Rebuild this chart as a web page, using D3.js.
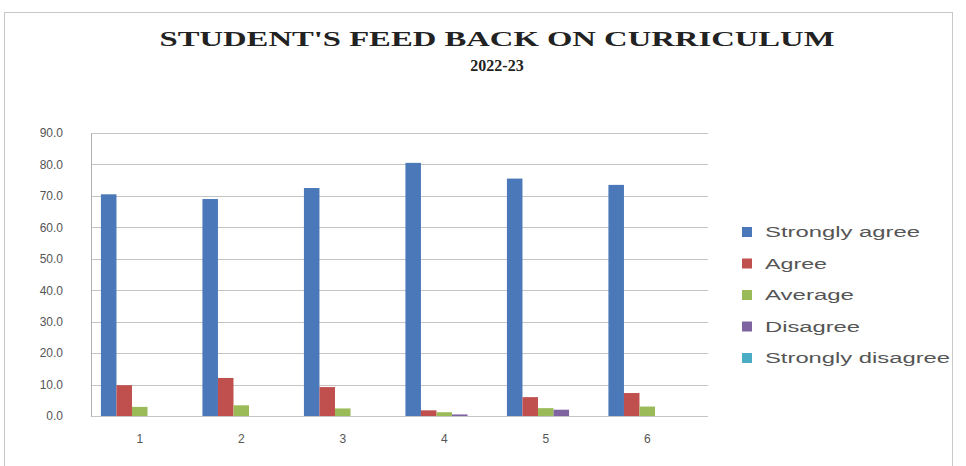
<!DOCTYPE html>
<html>
<head>
<meta charset="utf-8">
<script src="https://cdn.jsdelivr.net/npm/d3@7"></script>
<style>
  html, body { margin: 0; padding: 0; background: #fff; }
  svg { display: block; }
</style>
</head>
<body>
<script>
// ---- data ----
const categories = ["1", "2", "3", "4", "5", "6"];
const seriesNames = ["Strongly agree", "Agree", "Average", "Disagree", "Strongly disagree"];
const stronglyAgree = [70.5, 69.0, 72.5, 80.5, 75.5, 73.5];
const agree = [9.8, 12.1, 9.2, 1.8, 6.0, 7.3];
const average = [2.9, 3.4, 2.4, 1.2, 2.5, 3.0];
const disagree = [0, 0, 0, 0.5, 2.0, 0];
const stronglyDisagree = [0, 0, 0, 0, 0, 0];
const yTicks = [0, 10, 20, 30, 40, 50, 60, 70, 80, 90];
const titleLine1 = "STUDENT'S FEED BACK ON CURRICULUM";
const titleLine2 = "2022-23";

const seriesValues = [stronglyAgree, agree, average, disagree, stronglyDisagree];
const colors = ["#4A78B8", "#C0504D", "#9BBB59", "#8064A2", "#4BACC6"];

const W = 966, H = 466;
const svg = d3.select("body").append("svg").attr("width", W).attr("height", H);

// outer chart border
svg.append("rect").attr("x", 4.5).attr("y", 12.5).attr("width", 948).attr("height", 470)
  .attr("fill", "none").attr("stroke", "#c8c8c8").attr("stroke-width", 1);

// title
svg.append("text").attr("x", 497).attr("y", 46).attr("text-anchor", "middle")
  .attr("font-family", "Liberation Serif, Times New Roman, serif").attr("font-weight", "bold")
  .attr("font-size", 22).attr("textLength", 675).attr("lengthAdjust", "spacingAndGlyphs")
  .attr("fill", "#222").text(titleLine1);
svg.append("text").attr("x", 497).attr("y", 71).attr("text-anchor", "middle")
  .attr("font-family", "Liberation Serif, Times New Roman, serif").attr("font-weight", "bold")
  .attr("font-size", 16).attr("fill", "#222").text(titleLine2);

// scales
const plotL = 91, plotR = 708, plotT = 133, plotB = 416;
const y = d3.scaleLinear().domain([0, 90]).range([plotB, plotT]);
const x0 = d3.scaleBand().domain(categories).range([89, 698]).padding(0);
const groupW = x0.bandwidth() * 0.765;
const x1 = d3.scaleBand().domain(seriesNames)
  .range([(x0.bandwidth() - groupW) / 2, (x0.bandwidth() + groupW) / 2]).padding(0);

// gridlines
svg.append("g").selectAll("line").data(yTicks).join("line")
  .attr("x1", plotL).attr("x2", plotR)
  .attr("y1", d => Math.round(y(d)) + 0.5).attr("y2", d => Math.round(y(d)) + 0.5)
  .attr("stroke", "#c4c4c4").attr("stroke-width", 1.2);

// y axis
const yAxis = svg.append("g").attr("transform", `translate(${plotL},0)`)
  .call(d3.axisLeft(y).tickValues(yTicks).tickFormat(d3.format(".1f")).tickSize(0).tickPadding(28));
yAxis.select(".domain").attr("stroke", "#b0b0b0");
yAxis.selectAll("text").attr("font-family", "Liberation Sans, Arial, sans-serif")
  .attr("font-size", 12).attr("fill", "#555");

// x axis
const xAxis = svg.append("g").attr("transform", `translate(0,${plotB})`)
  .call(d3.axisBottom(x0).tickSize(0).tickPadding(18));
xAxis.select(".domain").remove();
xAxis.selectAll("text").attr("font-family", "Liberation Sans, Arial, sans-serif")
  .attr("font-size", 12).attr("fill", "#555");

// bars
const rows = [];
categories.forEach((c, i) => seriesNames.forEach((s, j) => rows.push({ c, s, j, v: seriesValues[j][i] })));
svg.append("g").selectAll("rect").data(rows).join("rect")
  .attr("x", d => x0(d.c) + x1(d.s))
  .attr("width", x1.bandwidth())
  .attr("y", d => y(d.v))
  .attr("height", d => y(0) - y(d.v))
  .attr("fill", d => colors[d.j]);

// legend
const legendWidths = [155, 62, 89, 95, 185];
const lg = svg.append("g");
seriesNames.forEach((s, j) => {
  const cy = 232 + j * 31.5;
  lg.append("rect").attr("x", 742).attr("y", cy - 5).attr("width", 10).attr("height", 10).attr("fill", colors[j]);
  lg.append("text").attr("x", 765).attr("y", cy + 5)
    .attr("font-family", "Liberation Sans, Arial, sans-serif").attr("font-size", 14)
    .attr("textLength", legendWidths[j]).attr("lengthAdjust", "spacingAndGlyphs")
    .attr("fill", "#555").text(s);
});
</script>
</body>
</html>
